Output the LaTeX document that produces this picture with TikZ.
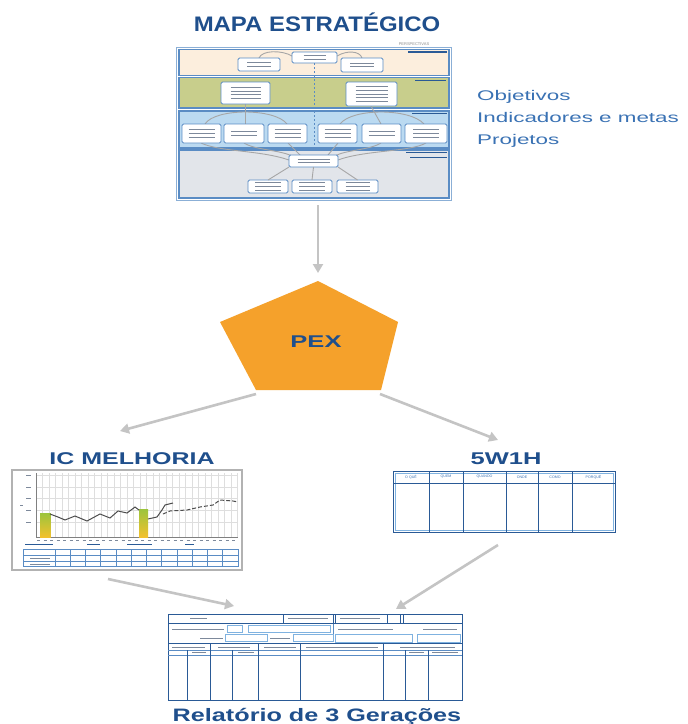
\documentclass[tikz,border=0pt]{standalone}
\usepackage{fontspec}
\setmainfont{Liberation Sans}
\usetikzlibrary{arrows.meta,shapes.geometric,calc}
\definecolor{tblue}{HTML}{1F4F8C}
\definecolor{sblue}{HTML}{3A72B4}
\definecolor{mblue}{HTML}{5A8CC4}
\definecolor{dblue}{HTML}{2A5A96}
\definecolor{lblue}{HTML}{7FB2E0}
\definecolor{peach}{HTML}{FCEEDD}
\definecolor{olive}{HTML}{C8CE8C}
\definecolor{bandb}{HTML}{BBDAF1}
\definecolor{bandg}{HTML}{E2E5EA}
\definecolor{pexor}{HTML}{F5A12B}
\definecolor{agray}{HTML}{C4C4C4}
\definecolor{ggray}{HTML}{DEDEDE}
\definecolor{fkgray}{HTML}{7D899B}
\definecolor{bartop}{HTML}{9CC43C}
\definecolor{barbot}{HTML}{F2C12E}
\newcommand\mkbox[6]{%
 \pgfmathsetmacro\mkbw{#5-#3}\pgfmathsetmacro\mkbh{#6-#4}%
 \pgfmathsetmacro\mkbx{(#3+#5)/2}\pgfmathsetmacro\mkby{(#4+#6)/2}%
 \node[#1,minimum width=\mkbw pt,minimum height=\mkbh pt,inner sep=0pt,outer sep=0pt] (#2) at (\mkbx,\mkby) {};}
\newcommand\ftx[3]{\foreach \k in {1,...,#2}{\draw[fk] ($(#1.center)+({-#3/2},{(\k-(#2+1)/2)*3.6})$) -- ++(#3,0);}}
\newcommand\fbar[4]{\draw[#4] (#1,#3) -- (#2,#3);}
\begin{document}
\begin{tikzpicture}[x=1pt,y=-1pt,
  ttl/.style={text=tblue,font=\bfseries,inner sep=0pt,anchor=base},
  side/.style={text=sblue,inner sep=0pt,anchor=base west,font=\fontsize{14}{14}\selectfont},
  band/.style={rectangle,draw=mblue,line width=1.2pt},
  mbox/.style={rectangle,draw=mblue,fill=white,line width=0.9pt,rounded corners=1.5pt},
  mline/.style={draw=black!35,line width=0.9pt},
  fk/.style={draw=fkgray,line width=1pt},
  fkd/.style={draw=dblue,line width=1.2pt},
  garr/.style={draw=agray,line width=2.6pt,-{Triangle[length=9pt,width=10pt]}},
  gridl/.style={draw=ggray,line width=0.5pt},
  tline/.style={draw=mblue,line width=0.8pt},
  dline/.style={draw=dblue,line width=1pt},
  lbox/.style={rectangle,draw=lblue,line width=0.8pt},
  hd/.style={text=sblue,font=\fontsize{3.6}{4}\selectfont,inner sep=0pt}]
\useasboundingbox (0,0) rectangle (688,724);
\fill[white] (0,0) rectangle (688,724);

% ---------------- titles -----------------
\node[ttl] (t1) at (317,31.5) {\scalebox{1.14}[1]{\fontsize{21}{21}\selectfont MAPA ESTRATÉGICO}};
\node[ttl] (t2) at (132,464) {\scalebox{1.47}[1]{\fontsize{17}{17}\selectfont IC MELHORIA}};
\node[ttl] (t3) at (506,464) {\scalebox{1.5}[1]{\fontsize{17}{17}\selectfont 5W1H}};
\node[ttl] (t4) at (317,721) {\scalebox{1.4}[1]{\fontsize{18}{18}\selectfont Relatório de 3 Gerações}};

\node[side] (s1) at (477,100) {\scalebox{1.6}[1]{Objetivos}};
\node[side] (s2) at (477,122.5) {\scalebox{1.6}[1]{Indicadores e metas}};
\node[side] (s3) at (477,144) {\scalebox{1.6}[1]{Projetos}};

% ---------------- strategic map -----------------
\node[text=black!45,font=\fontsize{4}{4}\selectfont,inner sep=0pt] (persp) at (414,44) {PERSPECTIVAS};
\mkbox{draw=mblue!70,line width=1pt,fill=white}{map}{176}{47}{451}{200}
\mkbox{band,fill=peach}{b1}{179}{49.5}{449}{75.5}
\mkbox{band,fill=olive}{b2}{179}{77.5}{449}{108}
\mkbox{band,fill=bandb}{b3}{179}{111}{449}{148}
\mkbox{band,fill=bandg}{b4}{179}{150}{449}{198}
% band headers
\fbar{408}{447}{52}{fkd}
\fbar{415}{446}{80.5}{fkd}
\fbar{412}{447}{113.5}{fkd}
\fbar{406}{447}{152.5}{fkd}
\fbar{410}{447}{157.5}{fkd}

% curves (behind boxes)
\draw[mline] (259,58) .. controls (262,50) and (282,50) .. (292,56);
\draw[mline] (337,56) .. controls (347,50) and (360,51) .. (362,58);
\draw[mline] (205,124) .. controls (215,108) and (275,108) .. (287,124);
\draw[mline] (245,104) -- (245,124);
\draw[mline] (340,124) .. controls (352,108) and (410,108) .. (424,124);
\draw[mline] (371,106) -- (381,124);
\draw[mline] (201,143) .. controls (220,152) and (260,150) .. (289,160);
\draw[mline] (244,143) .. controls (255,150) and (280,150) .. (292,156);
\draw[mline] (288,143) -- (300,155);
\draw[mline] (338,143) -- (328,155);
\draw[mline] (381,143) .. controls (370,150) and (345,150) .. (335,156);
\draw[mline] (426,143) .. controls (410,152) and (365,150) .. (338,160);

% band 1
\mkbox{mbox}{a2}{292}{52}{337}{63}
\mkbox{mbox}{a1}{238}{58}{280}{71}
\mkbox{mbox}{a3}{341}{58}{383}{72}
% band 2
\mkbox{mbox}{m1}{221}{82}{270}{104}
\mkbox{mbox}{m2}{346}{82}{397}{106}
% band 3
\mkbox{mbox}{p1}{182}{124}{221}{143}
\mkbox{mbox}{p2}{224}{124}{264}{143}
\mkbox{mbox}{p3}{268}{124}{307}{143}
\mkbox{mbox}{p4}{318}{124}{357}{143}
\mkbox{mbox}{p5}{362}{124}{401}{143}
\mkbox{mbox}{p6}{405}{124}{447}{143}
% band 4
\mkbox{mbox}{c4}{289}{155}{338}{167}
\mkbox{mbox}{d1}{248}{180}{288}{193}
\mkbox{mbox}{d2}{292}{180}{332}{193}
\mkbox{mbox}{d3}{337}{180}{378}{193}
\draw[mline] (d1.north) -- (c4.south west);
\draw[mline] (d2.north) -- (c4.south);
\draw[mline] (d3.north) -- (c4.south east);
\draw[draw=mblue,line width=1pt,dash pattern=on 2pt off 2pt] (a2.south) -- (a2.south |- b3.south);

\ftx{a2}{2}{22}
\ftx{a1}{2}{24}
\ftx{a3}{2}{24}
\ftx{m1}{4}{30}
\ftx{m2}{5}{32}
\ftx{p1}{3}{26}
\ftx{p2}{2}{26}
\ftx{p3}{3}{26}
\ftx{p4}{3}{26}
\ftx{p5}{2}{26}
\ftx{p6}{3}{26}
\ftx{c4}{2}{32}
\ftx{d1}{3}{26}
\ftx{d2}{3}{26}
\ftx{d3}{3}{24}

% ---------------- PEX -----------------
\coordinate (pt) at (318,281);
\coordinate (pul) at (220,322);
\coordinate (pur) at (398,322);
\coordinate (plr) at (381,390);
\coordinate (pll) at (256,390);
\fill[pexor] (pt) -- (pur) -- (plr) -- (pll) -- (pul) -- cycle;
\node[ttl] (pex) at (316,347) {\scalebox{1.5}[1]{\fontsize{17}{17}\selectfont PEX}};

% ---------------- IC chart -----------------
\mkbox{draw=black!30,line width=1.2pt,fill=white}{ic}{12}{470}{242}{570}
\foreach \i in {1,...,31} \draw[gridl] ({36+\i*6.5},473) -- ({36+\i*6.5},537);
\foreach \yy in {475,487,498,510,522} {\draw[gridl] (36,\yy) -- (238,\yy); \fbar{26}{31}{\yy}{fk}}
\fbar{20}{23}{505}{fk}
\draw[black!50,line width=0.8pt] (36,473) -- (36,537) -- (238,537);
\foreach \i in {0,...,30} \fbar{{37+\i*6.5}}{{40+\i*6.5}}{540.5}{fk}
\shade[top color=bartop,bottom color=barbot] (40,513) rectangle (50,537);
\shade[top color=bartop,bottom color=barbot] (139,509) rectangle (148,537);
\draw[black!70,line width=1pt] plot coordinates {(50,514) (58,517) (65,520) (75,516) (87,521) (100,514) (110,518) (118,511) (127,513) (135,507) (139,510)};
\draw[black!70,line width=1pt] plot coordinates {(148,519) (157,517) (162,510) (165,505) (173,503)};
\draw[black!70,line width=1pt,dash pattern=on 4pt off 2pt] plot coordinates {(163,514) (170,511) (187,510) (200,507) (213,505) (220,500) (233,501) (238,502)};
\fbar{25}{53}{544.5}{fkd}
\fbar{87}{100}{544.5}{fkd}
\fbar{127}{152}{544.5}{fkd}
\fbar{185}{194}{544.5}{fkd}
\draw[tline] (23,549) rectangle (238,566.5);
\draw[tline] (23,555) -- (238,555);
\draw[tline] (23,561) -- (238,561);
\foreach \i in {0,...,11} \draw[tline] ({55+\i*15.25},549) -- ({55+\i*15.25},566.5);
\fbar{30}{50}{558}{fk}
\fbar{30}{50}{564}{fk}

% ---------------- 5W1H table -----------------
\mkbox{draw=dblue,line width=1pt,fill=white}{w5}{393}{471}{615}{532}
\draw[lblue,line width=0.6pt] (395,473) rectangle (613,530);
\draw[dline] (393,483) -- (615,483);
\foreach \xx in {429,463,506,538,572} \draw[dline] (\xx,471) -- (\xx,532);
\node[hd] (h1) at (411,477) {O QUÊ};
\node[hd] (h2) at (446,477) {QUEM};
\node[hd] (h3) at (484.5,477) {QUANDO};
\node[hd] (h4) at (522,477) {ONDE};
\node[hd] (h5) at (555,477) {COMO};
\node[hd] (h6) at (593.5,477) {PORQUÊ};

% ---------------- Relatorio form -----------------
\mkbox{draw=dblue,line width=1pt,fill=white}{rel}{168}{614}{462}{700}
% row 1
\draw[dline] (168,623) -- (462,623);
\draw[dline] (283,614) -- (283,623);
\draw[dline] (333,614) -- (333,623);
\draw[dline] (335,614) -- (335,623);
\draw[dline] (387,614) -- (387,623);
\draw[dline] (400,614) -- (400,623);
\draw[dline] (403,614) -- (403,623);
\fbar{190}{207}{618.5}{fk}
\fbar{288}{328}{618.5}{fk}
\fbar{340}{380}{618.5}{fk}
% row 2
\fbar{172}{224}{629}{fk}
\draw[lbox] (227,625.5) rectangle (242,632);
\draw[lbox] (248,625.5) rectangle (330,632);
\fbar{338}{393}{629}{fk}
\fbar{423}{457}{629}{fk}
\draw[tline] (333,624) -- (333,642);
% row 3
\fbar{200}{223}{638}{fk}
\draw[lbox] (225,634.5) rectangle (267,641);
\fbar{270}{290}{638}{fk}
\draw[lbox] (293,634.5) rectangle (333,641);
\draw[lbox] (335,634) rectangle (412,642);
\draw[lbox] (417,634) rectangle (460,642);
\draw[dline] (168,643.5) -- (462,643.5);
% header rows
\draw[tline] (168,650) -- (462,650);
\draw[tline] (168,655) -- (462,655);
\foreach \xx in {210,258,300,383} \draw[dline] (\xx,643.5) -- (\xx,700);
\foreach \xx in {187,232,405,428} \draw[dline] (\xx,650) -- (\xx,700);
\fbar{172}{205}{647}{fk}
\fbar{218}{250}{647}{fk}
\fbar{264}{296}{647}{fk}
\fbar{306}{378}{647}{fk}
\fbar{400}{455}{647}{fk}
\fbar{192}{206}{652.5}{fk}
\fbar{238}{254}{652.5}{fk}
\fbar{409}{424}{652.5}{fk}
\fbar{432}{458}{652.5}{fk}

% ---------------- arrows -----------------
\coordinate (e2) at (120,431);
\coordinate (s2) at (256,394);
\coordinate (e3) at (498,440);
\coordinate (s3) at (380,394);
\coordinate (s4) at (108,579);
\coordinate (e4) at (234,606);
\coordinate (s5) at (498,545);
\coordinate (e5) at (396,609);
\draw[garr,shorten <=5pt,shorten >=-1pt] (pt |- map.south) -- ($(pt)+(0,-9)$);
\draw[garr] (s2) -- (e2);
\draw[garr] (s3) -- (e3);
\draw[garr] (s4) -- (e4);
\draw[garr] (s5) -- (e5);
\end{tikzpicture}
\end{document}
